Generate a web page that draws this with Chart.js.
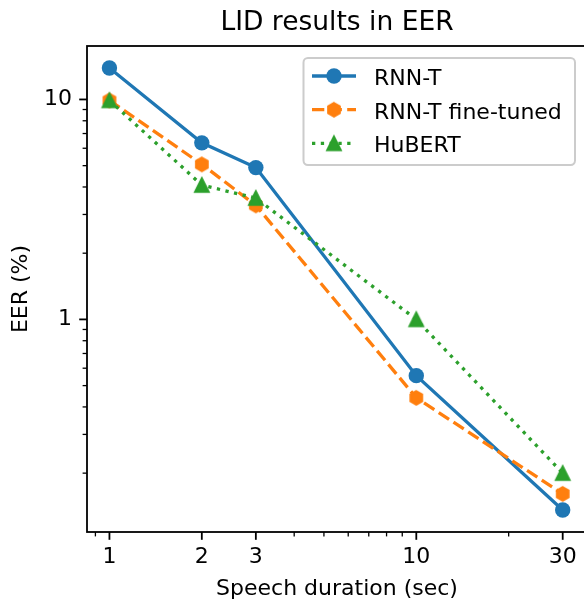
<!DOCTYPE html>
<html>
<head>
<meta charset="utf-8">
<script src="https://cdn.jsdelivr.net/npm/chart.js@4"></script>
<style>
  html, body { margin: 0; padding: 0; background: #fff; overflow: hidden; }
  #wrap { width: 600px; height: 600px; }
</style>
</head>
<body>
<div id="wrap"><canvas id="eerChart" width="600" height="600"></canvas></div>
<script>
// values
const durations = [1, 2, 3, 10, 30];
const rnntEER = [13.9, 6.35, 4.9, 0.555, 0.136];
const rnntFtEER = [9.9, 5.07, 3.3, 0.44, 0.161];
const hubertEER = [9.9, 4.08, 3.56, 1.0, 0.2];

const xTickValues = [0.9, 1, 2, 3, 4, 5, 6, 7, 8, 9, 10, 20, 30];
const xTickLabels = [1, 2, 3, 10, 30];
const yTickValues = [0.2, 0.3, 0.4, 0.5, 0.6, 0.7, 0.8, 0.9, 1, 2, 3, 4, 5, 6, 7, 8, 9, 10];
const yTickLabels = [1, 10];

const BLUE = '#1f77b4', ORANGE = '#ff7f0e', GREEN = '#2ca02c';
const FONT = 'DejaVu Sans';

function makeMarker(color, drawPath) {
    const c = document.createElement('canvas');
    c.width = 20; c.height = 20;
    const g = c.getContext('2d');
    g.fillStyle = color;
    g.strokeStyle = color;
    g.lineWidth = 2.2;
    g.lineJoin = 'miter';
    g.beginPath();
    drawPath(g);
    g.closePath();
    g.fill();
    g.stroke();
    return c;
}

const hexMarker = makeMarker(ORANGE, function (g) {
    const r = 6.65;
    for (let k = 0; k < 6; k++) {
        const a = -Math.PI / 2 + k * Math.PI / 3;
        const px = 10 + r * Math.cos(a), py = 10 + r * Math.sin(a);
        if (k === 0) g.moveTo(px, py); else g.lineTo(px, py);
    }
});

const triMarker = makeMarker(GREEN, function (g) {
    const h = 6.65;
    g.moveTo(10, 10 - h);
    g.lineTo(10 - h, 10 + h);
    g.lineTo(10 + h, 10 + h);
});

function toPoints(ys) {
    return durations.map((x, i) => ({ x: x, y: ys[i] }));
}

// spines and tick marks, matplotlib style
const axesPlugin = {
    id: 'axesPlugin',
    afterDatasetsDraw(chart) {
        const { ctx, chartArea: a } = chart;
        const xs = chart.scales.x, ys = chart.scales.y;
        ctx.save();
        ctx.strokeStyle = '#000';
        xTickValues.forEach(v => {
            const major = xTickLabels.includes(v);
            const px = xs.getPixelForValue(v);
            ctx.lineWidth = major ? 1.8 : 1.3;
            ctx.beginPath();
            ctx.moveTo(px, a.bottom);
            ctx.lineTo(px, a.bottom + (major ? 7.8 : 4.4));
            ctx.stroke();
        });
        yTickValues.forEach(v => {
            const major = yTickLabels.includes(v);
            const py = ys.getPixelForValue(v);
            ctx.lineWidth = major ? 1.8 : 1.3;
            ctx.beginPath();
            ctx.moveTo(a.left, py);
            ctx.lineTo(a.left - (major ? 7.8 : 4.4), py);
            ctx.stroke();
        });
        ctx.lineWidth = 1.8;
        ctx.strokeRect(a.left, a.top, a.right - a.left, a.bottom - a.top);
        ctx.restore();
    }
};

// legend box in the upper right, line + marker handles
const legendPlugin = {
    id: 'mplLegend',
    afterDraw(chart) {
        const ctx = chart.ctx;
        const box = { x: 303.5, y: 58, w: 271.5, h: 107 };
        ctx.save();
        ctx.fillStyle = 'rgba(255,255,255,0.8)';
        ctx.strokeStyle = '#cccccc';
        ctx.lineWidth = 2;
        ctx.beginPath();
        ctx.roundRect(box.x, box.y, box.w, box.h, 4.4);
        ctx.fill();
        ctx.stroke();

        const baselines = [85, 118.7, 152.4];
        chart.data.datasets.forEach((ds, i) => {
            const yMid = baselines[i] - 9;
            ctx.strokeStyle = ds.borderColor;
            ctx.lineWidth = ds.borderWidth;
            ctx.lineCap = 'butt';
            ctx.setLineDash(ds.borderDash || []);
            ctx.beginPath();
            ctx.moveTo(312, yMid);
            ctx.lineTo(356, yMid);
            ctx.stroke();
            ctx.setLineDash([]);
            if (ds.pointStyle === 'circle') {
                ctx.fillStyle = ds.borderColor;
                ctx.beginPath();
                ctx.arc(334, yMid, ds.pointRadius, 0, Math.PI * 2);
                ctx.fill();
            } else {
                ctx.drawImage(ds.pointStyle, 334 - 10, yMid - 10);
            }
            ctx.fillStyle = '#000';
            ctx.font = '22px "' + FONT + '"';
            ctx.textAlign = 'left';
            ctx.textBaseline = 'alphabetic';
            ctx.fillText(ds.label, 374, baselines[i]);
        });
        ctx.restore();
    }
};

const ctx = document.getElementById('eerChart').getContext('2d');
new Chart(ctx, {
    type: 'line',
    data: {
        datasets: [{
            label: 'RNN-T',
            data: toPoints(rnntEER),
            borderColor: BLUE,
            backgroundColor: BLUE,
            borderWidth: 3.3,
            pointStyle: 'circle',
            pointRadius: 7.7,
            pointBorderWidth: 0,
            order: 3
        }, {
            label: 'RNN-T fine-tuned',
            data: toPoints(rnntFtEER),
            borderColor: ORANGE,
            backgroundColor: ORANGE,
            borderWidth: 3.3,
            borderDash: [12.3, 5.3],
            pointStyle: hexMarker,
            pointRadius: 8,
            order: 2
        }, {
            label: 'HuBERT',
            data: toPoints(hubertEER),
            borderColor: GREEN,
            backgroundColor: GREEN,
            borderWidth: 3.3,
            borderDash: [3.3, 5.5],
            pointStyle: triMarker,
            pointRadius: 8,
            order: 1
        }]
    },
    options: {
        responsive: false,
        animation: false,
        events: [],
        layout: { padding: { left: 0, right: 13, top: 0, bottom: 0 } },
        plugins: {
            legend: { display: false },
            tooltip: { enabled: false },
            title: {
                display: true,
                fullSize: false,
                text: 'LID results in EER',
                color: '#000',
                font: { family: FONT, size: 26.5, weight: 'normal', lineHeight: 1 },
                padding: { top: 9.5, bottom: 10 }
            }
        },
        scales: {
            x: {
                type: 'logarithmic',
                min: 0.845,
                max: 36,
                grid: { display: false, drawTicks: false },
                border: { display: false },
                ticks: {
                    autoSkip: false,
                    maxRotation: 0,
                    padding: 12.2,
                    color: '#000',
                    font: { family: FONT, size: 22 },
                    callback: v => xTickLabels.includes(v) ? String(v) : ''
                },
                title: {
                    display: true,
                    text: 'Speech duration (sec)',
                    color: '#000',
                    font: { family: FONT, size: 22, lineHeight: 1 },
                    padding: { top: 0, bottom: 0 }
                },
                afterBuildTicks: scale => {
                    scale.ticks = xTickValues.map(v => ({ value: v }));
                },
                afterFit: scale => { scale.height = 68; }
            },
            y: {
                type: 'logarithmic',
                min: 0.108,
                max: 17.5,
                grid: { display: false, drawTicks: false },
                border: { display: false },
                ticks: {
                    autoSkip: false,
                    padding: 15,
                    color: '#000',
                    font: { family: FONT, size: 22 },
                    callback: v => yTickLabels.includes(v) ? String(v) : ''
                },
                title: {
                    display: true,
                    text: 'EER (%)',
                    color: '#000',
                    font: { family: FONT, size: 22, lineHeight: 1 },
                    padding: { top: 10.5, bottom: 0 }
                },
                afterBuildTicks: scale => {
                    scale.ticks = yTickValues.map(v => ({ value: v }));
                },
                afterFit: scale => { scale.width = 87; }
            }
        }
    },
    plugins: [axesPlugin, legendPlugin]
});
</script>
</body>
</html>
